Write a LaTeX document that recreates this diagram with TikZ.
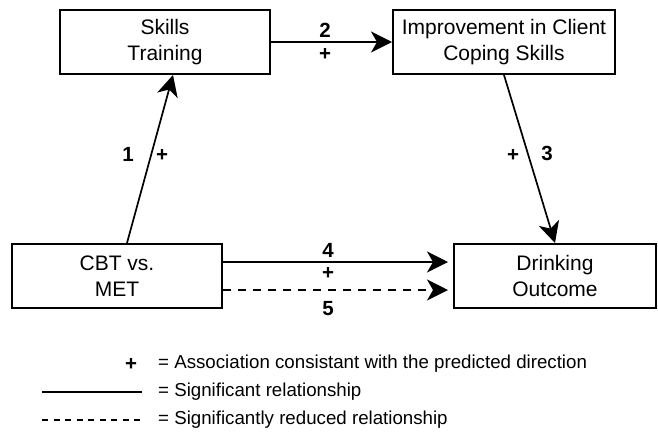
\documentclass[tikz,border=0pt]{standalone}
\usepackage{fontspec}
\setmainfont{Liberation Sans}
\usetikzlibrary{arrows.meta}
\begin{document}
\begin{tikzpicture}[x=1pt,y=-1pt,
    box/.style={draw,line width=2pt,minimum height=64pt,inner sep=0pt,align=center,font=\fontsize{21}{26}\selectfont},
    lbl/.style={font=\bfseries\fontsize{20.5}{24}\selectfont},
    conn/.style={line width=1.7pt,-{Stealth[length=21pt,width=21pt,inset=6pt]}},
    leg/.style={anchor=west,inner sep=0pt,font=\fontsize{18.7}{22}\selectfont}]
  \useasboundingbox (0,0) rectangle (658,432);
  \draw
    (165,42) node[box,minimum width=210pt] (skills){Skills\\Training}
    (504,42) node[box,minimum width=222pt] (improve){Improvement in Client\\Coping Skills}
    (117,276) node[box,minimum width=210pt] (cbt){CBT vs.\\MET}
    (555,276) node[box,minimum width=202pt] (drink){Drinking\\Outcome};
  \begin{scope}[conn]
    \draw ([xshift=10pt]cbt.north) to ([xshift=8pt]skills.south);
    \draw (skills) to (improve);
    \draw (improve.south) to (drink.north);
    \draw ([yshift=14pt]cbt.east) to ([yshift=14pt,xshift=-5pt]drink.west);
    \draw[dash pattern=on 8pt off 7pt] ([yshift=-14pt]cbt.east) to ([yshift=-14pt,xshift=-5pt]drink.west);
  \end{scope}
  % path labels
  \node[lbl] (l1) at (128,154) {1};
  \node[lbl] (p1) at (162,155) {+};
  \node[lbl] (l2) at (325,30) {2};
  \node[lbl] (p2) at (325,54) {+};
  \node[lbl] (p3) at (513,155) {+};
  \node[lbl] (l3) at (547,153) {3};
  \node[lbl] (l4) at (328,250) {4};
  \node[lbl] (p4) at (328,273) {+};
  \node[lbl] (l5) at (328,309) {5};
  % legend
  \node[lbl] (plus) at (131,364) {+};
  \node[leg] (t1) at (158,364) {= Association consistant with the predicted direction};
  \coordinate (s1) at (42,392);
  \coordinate (s2) at (142,392);
  \draw[line width=1.2pt] (s1) -- (s2);
  \node[leg] (t2) at (158,392) {= Significant relationship};
  \coordinate (d1) at (42,420);
  \coordinate (d2) at (142,420);
  \draw[line width=1.2pt,dash pattern=on 6pt off 5.5pt] (d1) -- (d2);
  \node[leg] (t3) at (158,420) {= Significantly reduced relationship};
\end{tikzpicture}
\end{document}
